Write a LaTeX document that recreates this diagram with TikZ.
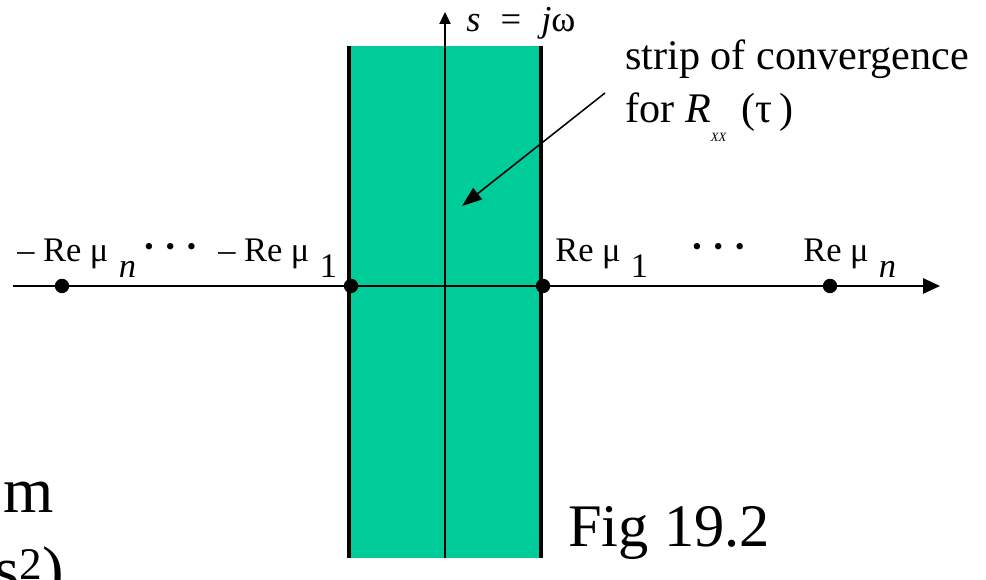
\documentclass[tikz,border=0pt]{standalone}
\usepackage{fontspec}
\setmainfont{Liberation Serif}
\usetikzlibrary{arrows.meta}
\definecolor{stripgreen}{HTML}{00CC99}
\newcommand{\lowsub}[1]{\hspace{0.3em}\raisebox{-0.45em}{#1}}
\newcommand{\tridots}{\fontsize{19}{23}\selectfont\raisebox{0.25em}{•\hspace{0.45em}•\hspace{0.45em}•}}

\begin{document}
\begin{tikzpicture}[
  dot/.style={circle, fill=black, inner sep=0pt, minimum size=0.36cm},
  lbl/.style={anchor=base west, inner sep=0pt, font=\fontsize{24.5}{29}\selectfont},
  note/.style={anchor=base west, inner sep=0pt, font=\fontsize{30}{36}\selectfont},
  big/.style={inner sep=0pt, font=\fontsize{43}{52}\selectfont}]

\clip (0,0) rectangle (24.65,14.5);

% Strip of convergence
\fill[stripgreen] (8.725,0.55) rectangle (13.525,13.35);
\draw[line width=2.6pt] (8.725,0.55) -- (8.725,13.35);
\draw[line width=2.6pt] (13.525,0.55) -- (13.525,13.35);

% Axes
\coordinate (ybot) at (11.125,0.55);
\coordinate (ytop) at (11.125,14.2);
\coordinate (xleft) at (0.325,7.35);
\coordinate (xright) at (23.5,7.35);
\draw[line width=1.1pt, -{Triangle[length=0.3cm, width=0.28cm]}] (ybot) -- (ytop);
\draw[line width=1.3pt, -{Triangle[length=0.42cm, width=0.38cm]}] (xleft) -- (xright);
\node[lbl, font=\fontsize{26}{31}\selectfont] (jw) at (11.65,13.7)
  {\textit{s}\hspace{0.55em}=\hspace{0.55em}\textit{j}ω};

% Poles on the real axis
\node[dot] (mn) at (1.55,7.35) {};
\node[dot] (m1) at (8.775,7.35) {};
\node[dot] (p1) at (13.575,7.35) {};
\node[dot] (pn) at (20.75,7.35) {};

\node[lbl] (lmn) at (0.425,7.95) {– Re μ\lowsub{\textit{n}}};
\node[lbl] (ldl) at (3.6,7.95) {\tridots};
\node[lbl] (lm1) at (5.45,7.95) {– Re μ\lowsub{1}};
\node[lbl] (lp1) at (13.875,7.95) {Re μ\lowsub{1}};
\node[lbl] (ldr) at (17.3,7.95) {\tridots};
\node[lbl] (lpn) at (20.075,7.95) {Re μ\lowsub{\textit{n}}};

% Annotation
\node[note] (conv1) at (15.625,12.75) {strip of convergence};
\node[note] (conv2) at (15.625,11.425)
  {for \textit{R}\raisebox{-0.45em}{\fontsize{9}{10}\selectfont\textit{XX}}\hspace{0.35em}(τ\,)};
\coordinate (arrstart) at (15.125,12.175);
\coordinate (arrend) at (11.55,9.35);
\draw[line width=1.1pt, -{Triangle[length=0.5cm, width=0.36cm]}] (arrstart) -- (arrend);

% Caption and cut-off slide text
\node[big, anchor=base west] (fig) at (14.2,0.83) {Fig 19.2};
\node[big, anchor=base east, font=\fontsize{46}{54}\selectfont] (mfrag) at (1.35,1.675) {m};
\node[big, anchor=base east, font=\fontsize{46}{54}\selectfont] (sfrag) at (1.62,-0.3) {s\textsuperscript{2})};

\end{tikzpicture}
\end{document}
